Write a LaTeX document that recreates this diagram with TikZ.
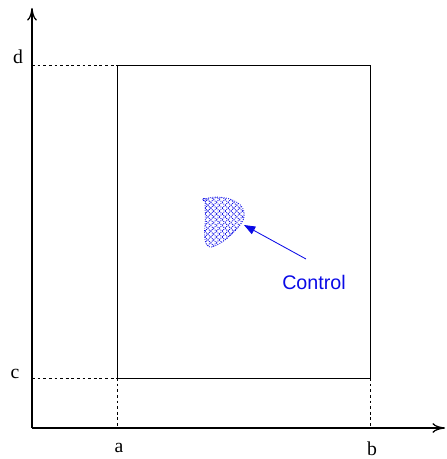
\documentclass[tikz,border=0pt]{standalone}
\usepackage{fontspec}
\setmainfont{Liberation Serif}
\setsansfont{Liberation Sans}
\usetikzlibrary{arrows.meta, patterns.meta, positioning, calc}
\definecolor{cCtrl}{RGB}{10, 10, 230}
\tikzset{
  % axes
  axisline/.style={-{To[length=9pt, width=7pt]}, line width=0.9pt},
  % rectangle of the domain
  domainbox/.style={line width=0.5pt},
  % guide lines
  guide/.style={dashed, dash pattern=on 2pt off 2pt, line width=0.45pt},
  % axis letters
  letter/.style={font=\fontsize{14}{16}\selectfont, inner sep=1pt},
  % control label
  ctrllab/.style={font=\sffamily\fontsize{14}{16}\selectfont, text=cCtrl, inner sep=1pt},
  arr/.style={-{Triangle[length=8pt, width=6pt]}, cCtrl, line width=0.6pt},
  % hatched control region
  hatch/.style={
    postaction={pattern={Lines[angle=45, distance=2.9pt, line width=0.65pt]}, pattern color=cCtrl},
    postaction={pattern={Lines[angle=-45, distance=2.9pt, line width=0.65pt]}, pattern color=cCtrl},
  },
}

\begin{document}
\begin{tikzpicture}[x=0.025cm, y=-0.025cm]
\useasboundingbox (0,0) rectangle (446,459);

% ── Axes ─────────────────────────────────────────────
\coordinate (O) at (32,428);
\coordinate (xend) at (445,428);
\coordinate (yend) at (32,8);
\draw[axisline] (O) -- (xend);
\draw[axisline] (O) -- (yend);

% ── Domain [a,b] x [c,d] ─────────────────────────────
\coordinate (ac) at (117,378);
\coordinate (bd) at (370,65);
\draw[domainbox] (ac) rectangle (bd);

% guides to the axes
\draw[guide] (O |- bd) -- (ac |- bd);
\draw[guide] (O |- ac) -- (ac);
\draw[guide] (ac) -- (ac |- O);
\draw[guide] (bd |- ac) -- (bd |- O);

% letters
\node[letter] (la) at (119,448) {a};
\node[letter] (lb) at (372,449) {b};
\node[letter] (lc) at (15,374) {c};
\node[letter] (ld) at (18,57) {d};

% ── Control region ───────────────────────────────────
\draw[cCtrl, line width=0.6pt, densely dotted, hatch]
  (206,199) .. controls (212,196) and (228,196) .. (238,203)
  .. controls (246,209) and (246,218) .. (240,225)
  .. controls (233,234) and (222,244) .. (212,247)
  .. controls (204,248) and (204,236) .. (205,225)
  .. controls (206,214) and (204,205) .. (206,199) -- cycle;
\draw[cCtrl, line width=0.5pt] (206,199) .. controls (202,197) and (202,201) .. (205,201);
\coordinate (tip) at (244,225);

\node[ctrllab] (ctrl) at (314,282) {Control};
\coordinate (tail) at (306,259);
\draw[arr] (tail) -- (tip);

\end{tikzpicture}
\end{document}
